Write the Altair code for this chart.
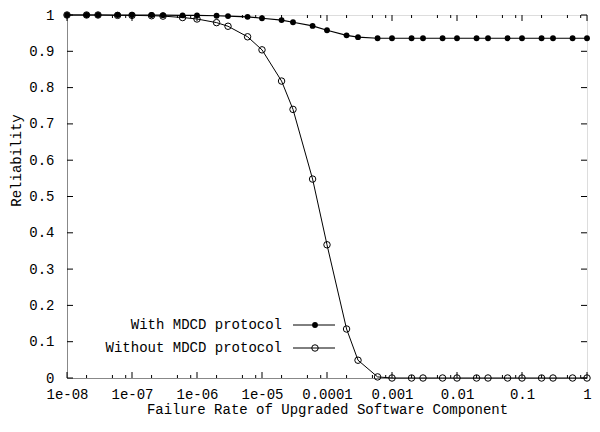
import json
import altair as alt
import pandas as pd

# ---------------- data ----------------
RATES = [1e-8, 2e-8, 3e-8, 6e-8,
         1e-7, 2e-7, 3e-7, 6e-7,
         1e-6, 2e-6, 3e-6, 6e-6,
         1e-5, 2e-5, 3e-5, 6e-5,
         1e-4, 2e-4, 3e-4, 6e-4,
         1e-3, 2e-3, 3e-3, 6e-3,
         1e-2, 2e-2, 3e-2, 6e-2,
         1e-1, 2e-1, 3e-1, 6e-1,
         1.0]

WITH_MDCD = [1.0, 1.0, 1.0, 1.0,
             1.0, 1.0, 0.9995, 0.999,
             0.999, 0.998, 0.997, 0.995,
             0.991, 0.986, 0.980, 0.970,
             0.958, 0.944, 0.939, 0.936,
             0.936, 0.936, 0.936, 0.936,
             0.936, 0.936, 0.936, 0.936,
             0.936, 0.936, 0.936, 0.936,
             0.936]

WITHOUT_MDCD = [1.0, 1.0, 1.0, 0.999,
                0.999, 0.998, 0.997, 0.993,
                0.989, 0.979, 0.969, 0.940,
                0.904, 0.818, 0.740, 0.548,
                0.367, 0.135, 0.049, 0.003,
                0.0, 0.0, 0.0, 0.0,
                0.0, 0.0, 0.0, 0.0,
                0.0, 0.0, 0.0, 0.0,
                0.0]

SERIES = ["With MDCD protocol", "Without MDCD protocol"]

X_TICKS = [1e-8, 1e-7, 1e-6, 1e-5, 1e-4, 1e-3, 1e-2, 1e-1, 1.0]
X_TICK_LABELS = ["1e-08", "1e-07", "1e-06", "1e-05", "0.0001", "0.001", "0.01", "0.1", "1"]
X_MINOR_MULT = [2, 5, 8]
Y_TICKS = [0.0, 0.1, 0.2, 0.3, 0.4, 0.5, 0.6, 0.7, 0.8, 0.9, 1.0]

X_TITLE = "Failure Rate of Upgraded Software Component"
Y_TITLE = "Reliability"

# ---------------- tables ----------------
df = pd.DataFrame({
    "rate": RATES * 2,
    "rel": WITH_MDCD + WITHOUT_MDCD,
    "series": [SERIES[0]] * len(RATES) + [SERIES[1]] * len(RATES),
})
x_major = pd.DataFrame({"rate": X_TICKS})
x_minor = pd.DataFrame({"rate": [d * m for d in X_TICKS[:-1] for m in X_MINOR_MULT]})
y_major = pd.DataFrame({"rel": Y_TICKS})

W, H = 520, 363
FONT = "Liberation Mono"
FS = 14

x_scale = alt.Scale(type="log", domain=[X_TICKS[0], X_TICKS[-1]])
y_scale = alt.Scale(domain=[0, 1], nice=False, zero=False)

label_expr = json.dumps(X_TICK_LABELS) + "[round(log(datum.value)/LN10)+8]"

x_axis = alt.Axis(values=X_TICKS, labelExpr=label_expr, tickSize=0, grid=False,
                  labelFont=FONT, labelFontSize=FS, labelColor="black",
                  labelFlush=False, labelOverlap=False, labelBound=False,
                  labelBaseline="top", labelPadding=9,
                  title=X_TITLE, titleFont=FONT, titleFontSize=FS,
                  titleFontWeight="normal", titleColor="black",
                  titleX=W / 2, titleY=35, titleBaseline="alphabetic")
y_axis = alt.Axis(values=Y_TICKS, format=".1~f", tickSize=0, grid=False,
                  labelFont=FONT, labelFontSize=FS, labelColor="black",
                  labelFlush=False, labelOverlap=False, labelBound=False,
                  labelPadding=13,
                  title=Y_TITLE, titleFont=FONT, titleFontSize=FS,
                  titleFontWeight="normal", titleColor="black",
                  titleX=-47, titleY=145, titleAngle=270,
                  titleBaseline="alphabetic")

X = alt.X("rate:Q", scale=x_scale, axis=x_axis)
Y = alt.Y("rel:Q", scale=y_scale, axis=y_axis)

base = alt.Chart(df)
open_line = base.transform_filter(alt.datum.series == SERIES[1]).mark_line(
    color="black", strokeWidth=1).encode(x=X, y=Y)
open_pts = base.transform_filter(alt.datum.series == SERIES[1]).mark_point(
    shape="circle", filled=False, color="black", size=42, strokeWidth=1,
    opacity=1).encode(x=X, y=Y)
solid_line = base.transform_filter(alt.datum.series == SERIES[0]).mark_line(
    color="black", strokeWidth=1.2).encode(x=X, y=Y)
solid_pts = base.transform_filter(alt.datum.series == SERIES[0]).mark_point(
    shape="circle", filled=True, color="black", size=34,
    opacity=1).encode(x=X, y=Y)

# inward tick marks (gnuplot style) on all four sides
MAJ, MIN = 6, 3
xb_major = alt.Chart(x_major).mark_rule(color="black").encode(
    x=X, y=alt.value(H), y2=alt.value(H - MAJ))
xt_major = alt.Chart(x_major).mark_rule(color="black").encode(
    x=X, y=alt.value(0), y2=alt.value(MAJ))
xb_minor = alt.Chart(x_minor).mark_rule(color="black").encode(
    x=X, y=alt.value(H), y2=alt.value(H - MIN))
xt_minor = alt.Chart(x_minor).mark_rule(color="black").encode(
    x=X, y=alt.value(0), y2=alt.value(MIN))
yl_major = alt.Chart(y_major).mark_rule(color="black").encode(
    y=Y, x=alt.value(0), x2=alt.value(MAJ))
yr_major = alt.Chart(y_major).mark_rule(color="black").encode(
    y=Y, x=alt.value(W), x2=alt.value(W - MAJ))

# legend (drawn manually, gnuplot style)
leg_layers = []
for i, (name, filled, size) in enumerate([(SERIES[0], True, 34), (SERIES[1], False, 42)]):
    ly = 310 + i * 23
    ldf = pd.DataFrame({"label": [name]})
    leg_layers.append(alt.Chart(ldf).mark_text(
        align="right", baseline="middle", font=FONT, fontSize=FS, color="black"
    ).encode(text="label:N", x=alt.value(215), y=alt.value(ly)))
    leg_layers.append(alt.Chart(ldf).mark_rule(color="black", strokeWidth=1).encode(
        x=alt.value(226), x2=alt.value(268), y=alt.value(ly)))
    leg_layers.append(alt.Chart(ldf).mark_point(
        shape="circle", filled=filled, color="black", size=size, strokeWidth=1,
        opacity=1).encode(x=alt.value(248), y=alt.value(ly)))

chart = alt.layer(
    xb_major, xt_major, xb_minor, xt_minor, yl_major, yr_major,
    open_line, open_pts, solid_line, solid_pts, *leg_layers
).properties(
    width=W, height=H,
    autosize=alt.AutoSizeParams(type="none"),
    padding={"left": 59, "top": 7, "right": 5, "bottom": 39},
).configure_view(
    stroke="black", strokeWidth=1
).configure_axis(
    domainColor="black", domainWidth=1
).configure(background="white")

chart.save("out.html", embed_options={"renderer": "svg", "actions": False})
